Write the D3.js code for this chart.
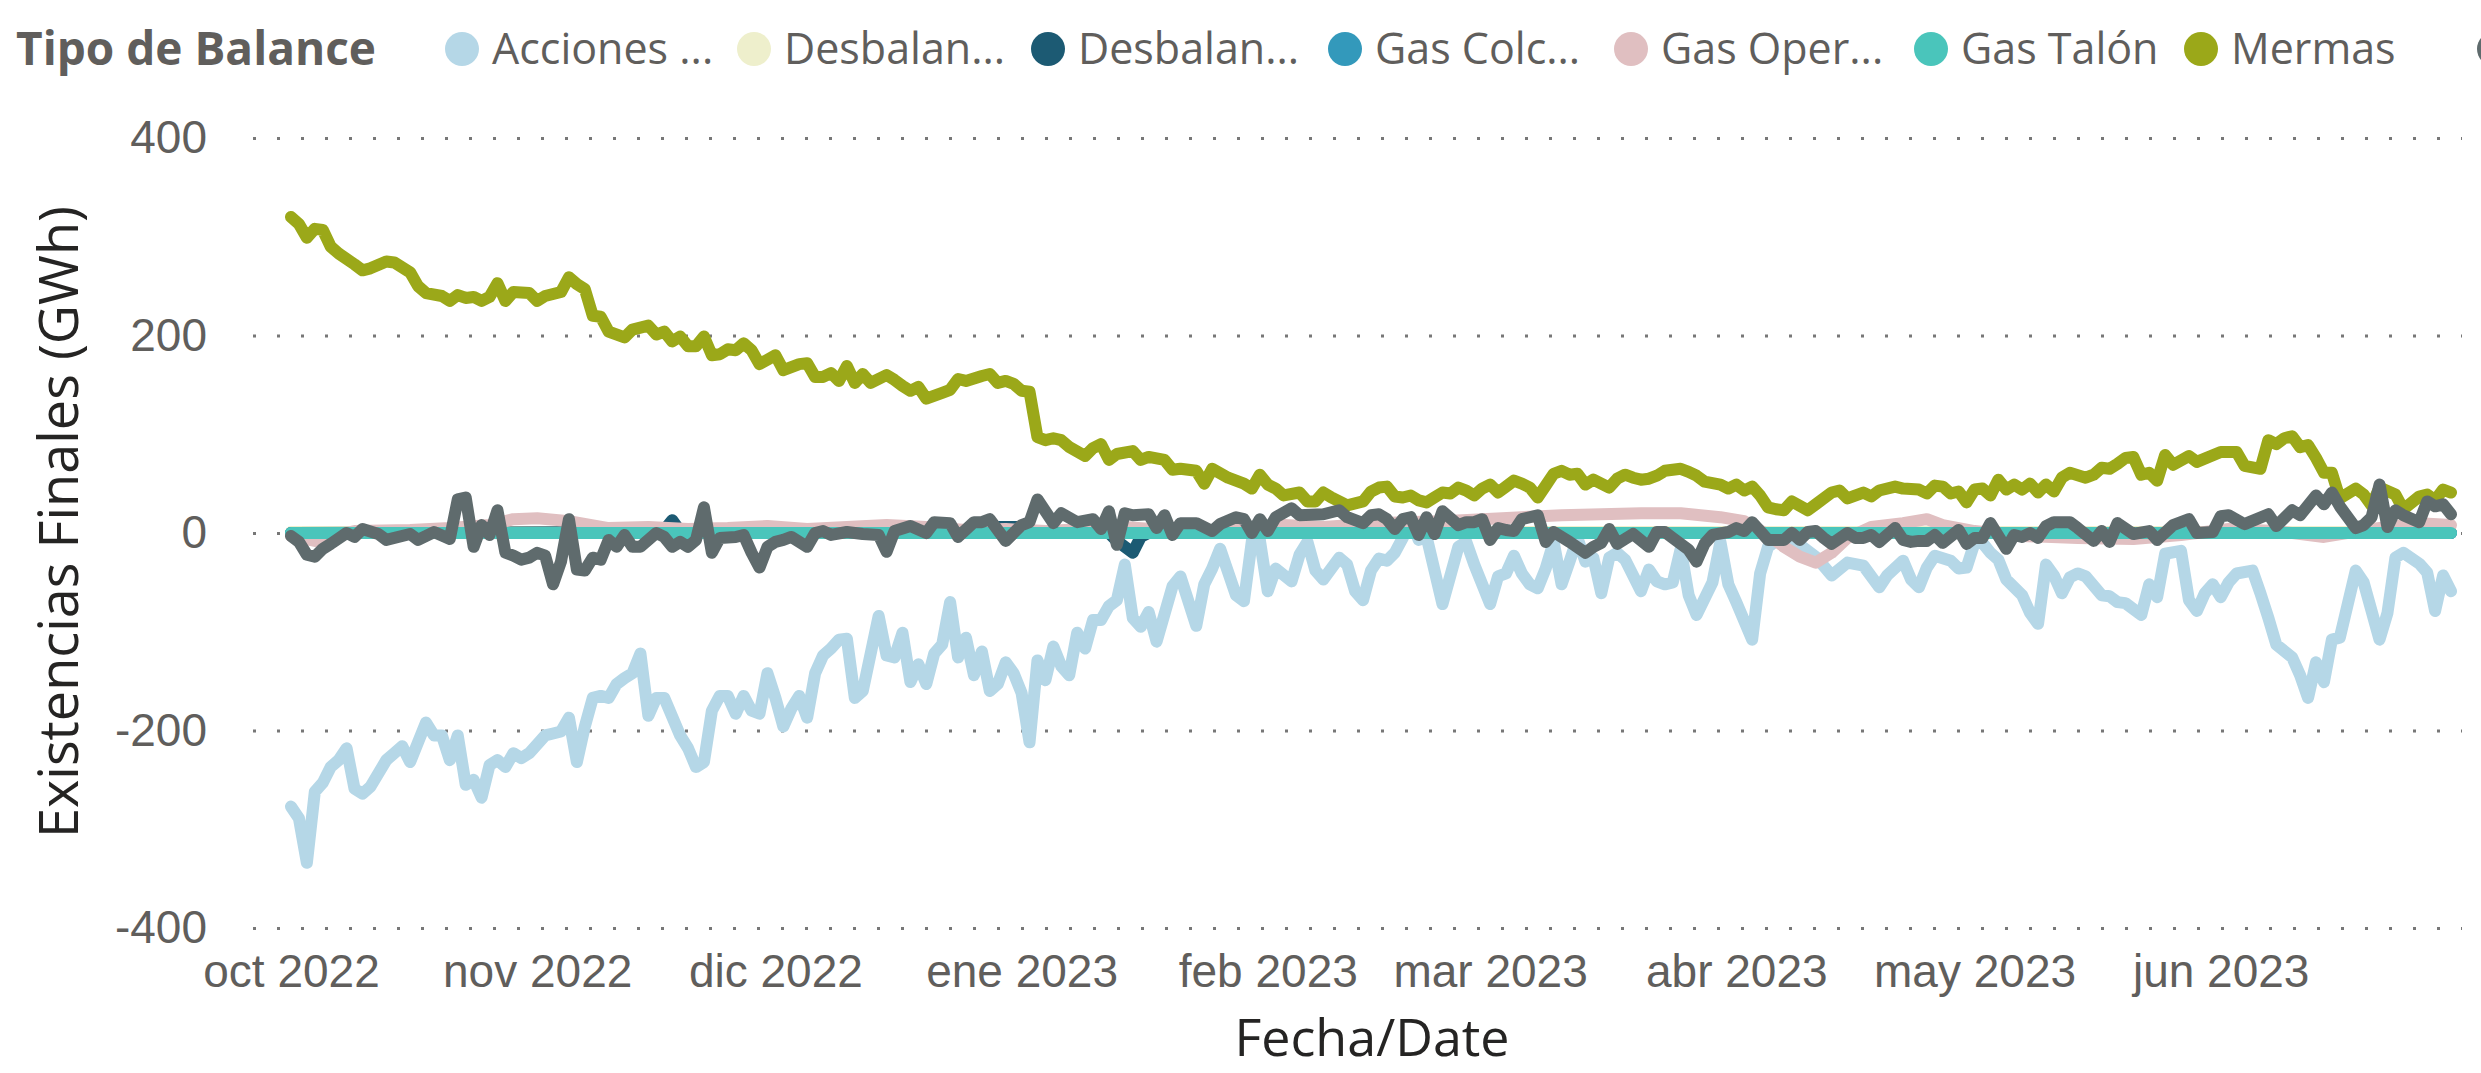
<!DOCTYPE html>
<meta charset="utf-8">
<style>
body { margin: 0; background: #fff; }
svg { font-family: "Segoe UI", "Open Sans", sans-serif; }
.tick text { fill: #605E5C; font-size: 46px; }
.grid line { stroke: #777; stroke-width: 3; stroke-dasharray: 3,21; }
.line { fill: none; stroke-width: 12px; stroke-linejoin: round; stroke-linecap: round; }
</style>
<body>
<script src="https://d3js.org/d3.v7.min.js"></script>
<script>

// day 0 = 1 oct 2022, one value per reading: [day, GWh]
var startDate = "2022-10-01";

var monthTicks = ["2022-10-01","2022-11-01","2022-12-01","2023-01-01","2023-02-01",
                  "2023-03-01","2023-04-01","2023-05-01","2023-06-01"];
var monthNames = ["ene","feb","mar","abr","may","jun","jul","ago","sep","oct","nov","dic"];
var yTicks = [-400, -200, 0, 200, 400];

var seriesNames  = ["Acciones ...", "Desbalan...", "Desbalan...", "Gas Colc...", "Gas Oper...", "Gas Talón", "Mermas", ""];
var seriesColors = ["#B5D7E7", "#EEEFCC", "#1C5A73", "#3399BB", "#E0BFC1", "#4AC5BB", "#9BA819", "#5F6B6D"];

var acciones = [[0,-277],[1,-289],[2,-334],[3,-262],[4,-253],[5,-237],[6,-230],[7,-218],[8,-259],[9,-264],
  [10,-257],[12,-230],[13,-223],[14,-216],[15,-232],[16,-212],[17,-192],[18,-205],[19,-205],[20,-230],
  [21,-205],[22,-255],[23,-250],[24,-268],[25,-235],[26,-230],[27,-237],[28,-223],[29,-228],[30,-223],
  [32,-205],[33,-203],[34,-201],[35,-187],[36,-232],[37,-196],[38,-167],[39,-165],[40,-167],[41,-153],
  [42,-147],[43,-142],[44,-122],[45,-185],[46,-167],[47,-167],[49,-205],[50,-218],[51,-237],[52,-232],
  [53,-180],[54,-165],[55,-165],[56,-183],[57,-165],[58,-180],[59,-183],[60,-142],[61,-167],[62,-196],
  [63,-178],[64,-165],[65,-187],[66,-142],[67,-124],[68,-117],[69,-108],[70,-107],[71,-167],[72,-160],
  [74,-84],[75,-124],[76,-126],[77,-101],[78,-151],[79,-133],[80,-153],[81,-122],[82,-113],[83,-70],
  [84,-126],[85,-106],[86,-144],[87,-120],[88,-160],[89,-153],[90,-131],[91,-142],[92,-162],[93,-212],
  [94,-129],[95,-149],[96,-115],[97,-135],[98,-144],[99,-101],[100,-117],[101,-88],[102,-88],[103,-74],
  [104,-68],[105,-32],[106,-86],[107,-95],[108,-80],[109,-110],[111,-54],[112,-44],[114,-94],[115,-52],
  [116,-36],[117,-16],[119,-63],[120,-69],[121,-8],[122,-7],[123,-59],[124,-36],[126,-49],[127,-22],
  [128,-9],[129,-38],[130,-47],[132,-25],[133,-32],[134,-59],[135,-68],[136,-38],[137,-26],[138,-28],
  [139,-20],[140,-5],[141,15],[142,-7],[143,-4],[145,-72],[147,-14],[148,-9],[149,-32],[151,-72],
  [152,-44],[153,-41],[154,-23],[155,-41],[156,-52],[157,-56],[158,-36],[159,-9],[160,-52],[161,-29],
  [162,-5],[163,-29],[164,-25],[165,-61],[166,-25],[167,-20],[168,-27],[170,-59],[171,-37],[172,-49],
  [173,-52],[174,-50],[175,-16],[176,-63],[177,-83],[179,-50],[180,-9],[181,-52],[182,-70],[184,-108],
  [185,-41],[186,-14],[188,-2],[190,-12],[192,-24],[194,-43],[196,-30],[198,-33],[200,-55],[201,-43],
  [203,-28],[204,-47],[205,-55],[206,-35],[207,-23],[209,-28],[210,-36],[211,-35],[212,-10],[213,-10],
  [214,-20],[215,-27],[216,-47],[218,-63],[219,-81],[220,-92],[221,-32],[222,-43],[223,-61],[224,-45],
  [225,-41],[226,-44],[228,-63],[229,-64],[230,-70],[231,-71],[233,-83],[234,-52],[235,-65],[236,-21],
  [238,-18],[239,-68],[240,-79],[241,-61],[242,-52],[243,-65],[244,-50],[245,-41],[247,-38],[248,-61],
  [249,-86],[250,-113],[252,-126],[253,-144],[254,-167],[255,-131],[256,-151],[257,-108],[258,-106],[260,-38],
  [261,-50],[263,-108],[264,-81],[265,-25],[266,-20],[268,-31],[269,-40],[270,-79],[271,-43],[272,-59]];

var desbalance1 = [[0,1],[90,1],[180,1],[272,1]];

var desbalance2 = [[0,0],[46,1],[47,3],[48,13],[49,2],[86,2],[88,6],[92,6],[94,1],[103,0],
  [104,-8],[106,-20],[107,-4],[108,0],[272,0]];

var gasColchon = [[0,0],[272,0]];

var gasOperativo = [[0,-3],[3,-8],[8,2],[15,3],[20,5],[25,8],[28,14],[31,15],[35,12],[40,5],
  [45,6],[50,4],[55,5],[60,7],[65,4],[70,6],[75,8],[80,6],[85,3],[90,4],[95,2],[100,4],[105,6],
  [110,3],[115,1],[120,4],[125,8],[130,6],[135,9],[140,11],[145,12],[150,14],[155,16],[160,18],
  [165,19],[170,20],[175,20],[180,16],[183,12],[186,-2],[188,-14],[190,-24],[192,-30],[194,-20],
  [196,-5],[199,6],[203,10],[206,14],[208,8],[212,2],[218,-3],[225,-5],[232,-6],[238,-2],[244,4],
  [250,2],[256,-4],[262,4],[268,10],[272,8]];

var gasTalon = [[0,0],[272,0]];

var mermas = [[0,320],[1,313],[2,299],[3,308],[4,307],[5,290],[6,283],[8,272],[9,266],[10,268],
  [12,275],[13,274],[15,264],[16,250],[17,243],[19,240],[20,235],[21,241],[22,238],[23,239],
  [24,235],[25,239],[26,253],[27,235],[28,244],[30,243],[31,235],[32,240],[34,244],[35,259],
  [36,252],[37,247],[38,220],[39,219],[40,204],[42,198],[43,206],[45,210],[46,201],[47,204],
  [48,194],[49,199],[50,189],[51,189],[52,199],[53,180],[54,181],[55,186],[56,185],[57,192],
  [58,185],[59,171],[61,180],[62,165],[64,171],[65,172],[66,158],[67,158],[68,162],[69,154],
  [70,169],[71,152],[72,161],[73,152],[75,160],[76,155],[77,149],[78,144],[79,148],[80,136],
  [82,142],[83,145],[84,156],[85,154],[87,159],[88,161],[89,152],[90,154],[91,151],[92,144],
  [93,143],[94,97],[95,94],[96,96],[97,94],[98,87],[100,78],[101,86],[102,90],[103,74],
  [104,80],[106,83],[107,74],[108,77],[110,74],[111,64],[112,65],[114,63],[115,50],[116,65],
  [118,56],[119,53],[120,50],[121,45],[122,59],[123,49],[124,45],[125,38],[127,41],[128,32],
  [129,32],[130,41],[131,36],[132,32],[133,28],[134,30],[135,32],[136,42],[137,46],[138,47],
  [139,37],[140,36],[141,38],[142,33],[143,31],[144,36],[145,41],[146,40],[147,46],[148,43],
  [149,38],[150,45],[151,49],[152,41],[153,47],[154,53],[155,50],[156,46],[157,36],[158,48],
  [159,60],[160,63],[161,59],[162,60],[163,49],[164,54],[165,50],[166,46],[167,55],[168,59],
  [169,56],[170,54],[171,55],[172,58],[173,63],[174,64],[175,65],[176,62],[177,58],[178,52],
  [180,49],[181,45],[182,49],[183,43],[184,47],[185,38],[186,26],[187,24],[188,23],[189,32],
  [191,23],[192,29],[194,41],[195,43],[196,35],[198,41],[199,37],[200,43],[202,47],[203,45],
  [205,44],[206,40],[207,48],[208,47],[209,40],[210,42],[211,31],[212,44],[213,45],[214,38],
  [215,54],[216,44],[217,49],[218,44],[219,50],[220,41],[221,49],[222,42],[223,56],[224,61],
  [226,56],[227,59],[228,66],[229,65],[230,70],[231,76],[232,77],[233,59],[234,61],[235,53],
  [236,79],[237,69],[239,78],[240,72],[243,82],[245,82],[246,68],[248,65],[249,94],[250,90],
  [251,96],[252,98],[253,87],[254,89],[255,76],[256,61],[257,61],[258,35],[260,45],[261,39],
  [262,28],[263,46],[265,39],[266,24],[268,37],[269,39],[270,33],[271,44],[272,41]];

// eighth series, its legend entry is cut off at the right edge
var otros = [[0,-3],[1,-9],[2,-22],[3,-24],[4,-16],[5,-11],[7,0],[8,-4],[9,4],[11,-1],
  [12,-7],[15,-1],[16,-7],[18,1],[20,-6],[21,34],[22,36],[23,-14],[24,8],[25,-2],
  [26,23],[27,-20],[28,-23],[29,-27],[30,-25],[31,-20],[32,-23],[33,-52],[34,-29],[35,14],
  [36,-37],[37,-38],[38,-25],[39,-27],[40,-7],[41,-14],[42,-2],[43,-14],[44,-14],[46,0],
  [47,-4],[48,-14],[49,-9],[50,-14],[51,-7],[52,26],[53,-20],[54,-5],[56,-4],[57,-2],
  [58,-20],[59,-35],[60,-14],[61,-9],[62,-7],[63,-4],[65,-14],[66,0],[67,2],[68,-2],
  [70,1],[72,-1],[74,-2],[75,-19],[76,2],[78,7],[80,0],[81,11],[83,10],[84,-4],
  [86,11],[87,11],[88,14],[90,-8],[92,8],[93,11],[94,34],[96,10],[97,20],[99,11],
  [101,14],[102,4],[103,22],[104,-12],[105,20],[106,18],[108,19],[109,5],[110,18],[111,-2],
  [112,10],[114,10],[116,2],[117,9],[119,16],[120,14],[121,0],[122,14],[123,2],[124,16],
  [126,25],[127,18],[130,19],[132,23],[133,16],[135,10],[136,18],[137,19],[138,14],[139,4],
  [140,14],[141,16],[142,-2],[143,16],[144,-1],[145,22],[147,8],[148,11],[149,11],[150,14],
  [151,-7],[152,5],[153,3],[154,2],[155,14],[157,18],[158,-9],[159,1],[161,-9],[163,-20],
  [164,-14],[165,-10],[166,4],[167,-11],[169,-1],[171,-14],[172,1],[173,1],[174,-5],[176,-17],
  [177,-29],[178,-11],[179,-2],[181,1],[182,5],[183,2],[184,11],[185,2],[186,-7],[188,-7],
  [189,0],[190,-7],[191,1],[192,2],[193,-5],[194,-11],[196,0],[197,-5],[198,-5],[199,-2],
  [200,-9],[202,5],[203,-7],[204,-9],[205,-8],[206,-8],[207,-2],[208,-10],[210,3],[211,-11],
  [212,-5],[213,-5],[214,10],[216,-16],[217,-2],[218,-4],[219,0],[220,-5],[221,7],[222,11],
  [224,11],[225,5],[227,-8],[228,2],[229,-9],[230,10],[232,-1],[234,2],[235,-7],[237,8],
  [239,14],[240,0],[242,1],[243,17],[244,18],[246,9],[249,19],[250,7],[252,23],[253,18],
  [255,38],[256,29],[257,41],[258,27],[260,5],[261,8],[262,16],[263,49],[264,6],[265,23],
  [266,18],[268,11],[269,32],[270,27],[271,29],[272,19]];

// drawing order = legend order
var allSeries = [acciones, desbalance1, desbalance2, gasColchon, gasOperativo, gasTalon, mermas, otros];

var W = 2481, H = 1073;
var parseDate = d3.timeParse("%Y-%m-%d");
var day0 = parseDate(startDate);

var svg = d3.select("body").append("svg")
    .attr("width", W)
    .attr("height", H);

var x = d3.scaleTime()
    .domain([day0, d3.timeDay.offset(day0, 272)])
    .range([291, 2451]);
var y = d3.scaleLinear()
    .domain([-400, 400])
    .range([928, 138]);

var gridLeft = 253, gridRight = 2462;

// y axis with dotted gridlines (plain hyphen for negatives)
var yAxis = svg.append("g")
    .attr("class", "grid")
    .attr("transform", "translate(" + gridLeft + ",0)")
    .call(d3.axisLeft(y).tickValues(yTicks)
      .tickSize(-(gridRight - gridLeft)).tickPadding(46)
      .tickFormat(function(d) { return String(d); }));
yAxis.select(".domain").remove();
yAxis.selectAll(".tick line").attr("x1", 0);

// x axis, month labels only
var xAxis = svg.append("g")
    .attr("transform", "translate(0,928)")
    .call(d3.axisBottom(x)
      .tickValues(monthTicks.map(parseDate))
      .tickSize(0).tickPadding(26)
      .tickFormat(function(d) { return monthNames[d.getMonth()] + " " + d.getFullYear(); }));
xAxis.select(".domain").remove();

// the lines
var valueline = d3.line()
    .x(function(d) { return x(d3.timeDay.offset(day0, d[0])); })
    .y(function(d) { return y(d[1]); });

allSeries.forEach(function(s, i) {
  svg.append("path")
      .datum(s)
      .attr("class", "line")
      .style("stroke", seriesColors[i])
      .attr("d", valueline);
});

// axis titles
svg.append("text")
    .attr("transform", "translate(78,522) rotate(-90)")
    .attr("text-anchor", "middle")
    .style("font-size", "54px")
    .style("fill", "#252423")
    .text("Existencias Finales (GWh)");

svg.append("text")
    .attr("x", 1372).attr("y", 1056)
    .attr("text-anchor", "middle")
    .style("font-size", "52px")
    .style("fill", "#252423")
    .text("Fecha/Date");

// legend
var legendY = 49;
var legendX = [462, 754, 1048, 1345, 1631, 1931, 2201, 2494];

svg.append("text")
    .attr("x", 16).attr("y", legendY)
    .attr("dy", "0.35em")
    .style("font-size", "46px")
    .style("font-weight", "bold")
    .style("fill", "#605E5C")
    .text("Tipo de Balance");

var legend = svg.selectAll(".legend")
    .data(seriesNames)
  .enter().append("g")
    .attr("class", "legend")
    .attr("transform", function(d, i) { return "translate(" + legendX[i] + "," + legendY + ")"; });

legend.append("circle")
    .attr("r", 17)
    .style("fill", function(d, i) { return seriesColors[i]; });

legend.append("text")
    .attr("x", 30)
    .attr("dy", "0.35em")
    .style("font-size", "43px")
    .style("fill", "#605E5C")
    .text(function(d) { return d; });

</script>
</body>
